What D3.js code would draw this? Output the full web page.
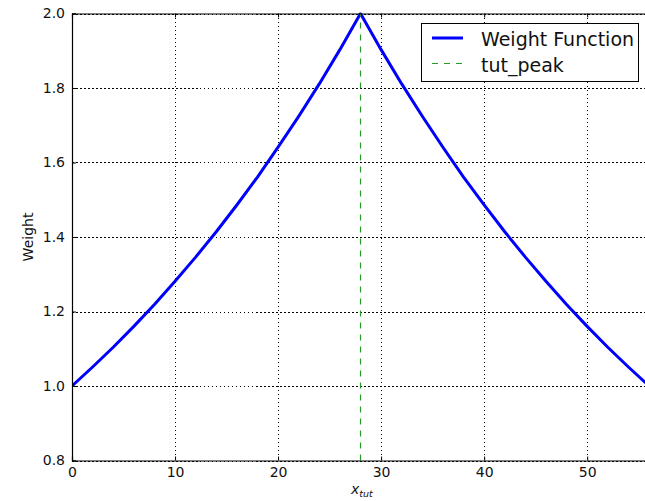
<!DOCTYPE html>
<html lang="en">
<head>
    <meta charset="UTF-8">
    <title>Weight Function</title>
    <script src="https://d3js.org/d3.v7.min.js"></script>
    <style>
        body { margin: 0; background: white; }
        text { font-family: "DejaVu Sans", sans-serif; }
    </style>
</head>
<body>
</body>
<script>
    // values
    const xs = [0, 2, 4, 6, 8, 10, 12, 14, 16, 18, 20, 22, 24, 26, 28,
                30, 32, 34, 36, 38, 40, 42, 44, 46, 48, 50, 52, 54, 56];
    const weights = [1.000, 1.051, 1.104, 1.160, 1.219, 1.281, 1.346, 1.414, 1.486, 1.561, 1.641, 1.724, 1.811, 1.903, 2.000,
                     1.903, 1.811, 1.724, 1.641, 1.561, 1.486, 1.414, 1.346, 1.281, 1.219, 1.160, 1.104, 1.051, 1.000];
    const tutPeak = 28;
    const xTicks = [0, 10, 20, 30, 40, 50];
    const yTicks = [0.8, 1.0, 1.2, 1.4, 1.6, 1.8, 2.0];
    const legendLabels = ["Weight Function", "tut_peak"];

    const WIDTH = 645, HEIGHT = 501;
    const plotL = 72, plotT = 13.5, plotR = 649, plotB = 460.5;

    const x = d3.scaleLinear().domain([0, 56]).range([plotL, plotR]);
    const y = d3.scaleLinear().domain([0.8, 2.0]).range([plotB, plotT]);

    const svg = d3.select("body").append("svg").attr("width", WIDTH).attr("height", HEIGHT);

    svg.append("clipPath").attr("id", "clip")
        .append("rect").attr("x", plotL).attr("y", plotT - 1).attr("width", plotR - plotL).attr("height", plotB - plotT + 1);

    // grid
    const grid = svg.append("g").attr("stroke", "black").attr("stroke-width", 1)
        .attr("stroke-dasharray", "1.5,2.5").attr("shape-rendering", "crispEdges");
    xTicks.forEach(t => {
        grid.append("line").attr("x1", Math.round(x(t)) + 0.5).attr("x2", Math.round(x(t)) + 0.5)
            .attr("y1", plotT).attr("y2", plotB);
    });
    yTicks.forEach(t => {
        grid.append("line").attr("y1", Math.round(y(t)) + 0.5).attr("y2", Math.round(y(t)) + 0.5)
            .attr("x1", plotL).attr("x2", plotR);
    });

    // curve
    const line = d3.line().x((d, i) => x(xs[i])).y(d => y(d));
    svg.append("path").datum(weights).attr("clip-path", "url(#clip)")
        .attr("d", line).attr("fill", "none").attr("stroke", "#0000ff").attr("stroke-width", 3)
        .attr("stroke-linejoin", "round");

    // peak marker
    svg.append("line").attr("x1", x(tutPeak)).attr("x2", x(tutPeak)).attr("y1", y(0.8)).attr("y2", y(2.0))
        .attr("stroke", "#2a9a2a").attr("stroke-width", 1.2).attr("stroke-dasharray", "6,6");

    // axes, ticks pointing inwards
    const xAxis = svg.append("g").attr("transform", `translate(0,${plotB})`)
        .call(d3.axisBottom(x).tickValues(xTicks).tickSize(-4).tickPadding(7).tickFormat(d3.format("d")));
    const xAxisTop = svg.append("g").attr("transform", `translate(0,${plotT})`)
        .call(d3.axisTop(x).tickValues(xTicks).tickSize(-4).tickFormat(""));
    const yAxis = svg.append("g").attr("transform", `translate(${plotL},0)`)
        .call(d3.axisLeft(y).tickValues(yTicks).tickSize(-4).tickPadding(7).tickFormat(d3.format(".1f")));
    [xAxis, xAxisTop, yAxis].forEach(a => {
        a.select(".domain").attr("stroke", "black").attr("stroke-width", 1.2);
        a.selectAll("line").attr("stroke", "black");
        a.selectAll("text").attr("font-size", 14).attr("fill", "#111").attr("font-family", "DejaVu Sans");
    });

    // axis labels
    svg.append("text").attr("transform", "translate(33,237) rotate(-90)")
        .attr("text-anchor", "middle").attr("font-size", 14).attr("fill", "#111").text("Weight");
    const xl = svg.append("text").attr("x", 351).attr("y", 494)
        .attr("font-family", "DejaVu Serif").attr("font-style", "italic").attr("font-size", 14).attr("fill", "#111");
    xl.append("tspan").text("x");
    xl.append("tspan").attr("font-size", 9.5).attr("dy", 3).text("tut");

    // legend
    const lg = svg.append("g");
    lg.append("rect").attr("x", 421.5).attr("y", 23.5).attr("width", 217).attr("height", 58)
        .attr("fill", "white").attr("stroke", "black").attr("stroke-width", 1);
    lg.append("line").attr("x1", 432).attr("x2", 463).attr("y1", 38).attr("y2", 38)
        .attr("stroke", "#0000ff").attr("stroke-width", 3);
    lg.append("line").attr("x1", 432).attr("x2", 463).attr("y1", 63.5).attr("y2", 63.5)
        .attr("stroke", "#2a9a2a").attr("stroke-width", 1.2).attr("stroke-dasharray", "6,6");
    legendLabels.forEach((t, i) => {
        lg.append("text").attr("x", 481).attr("y", 46 + i * 26).attr("font-size", 19).attr("fill", "#111").text(t);
    });
</script>
</html>
